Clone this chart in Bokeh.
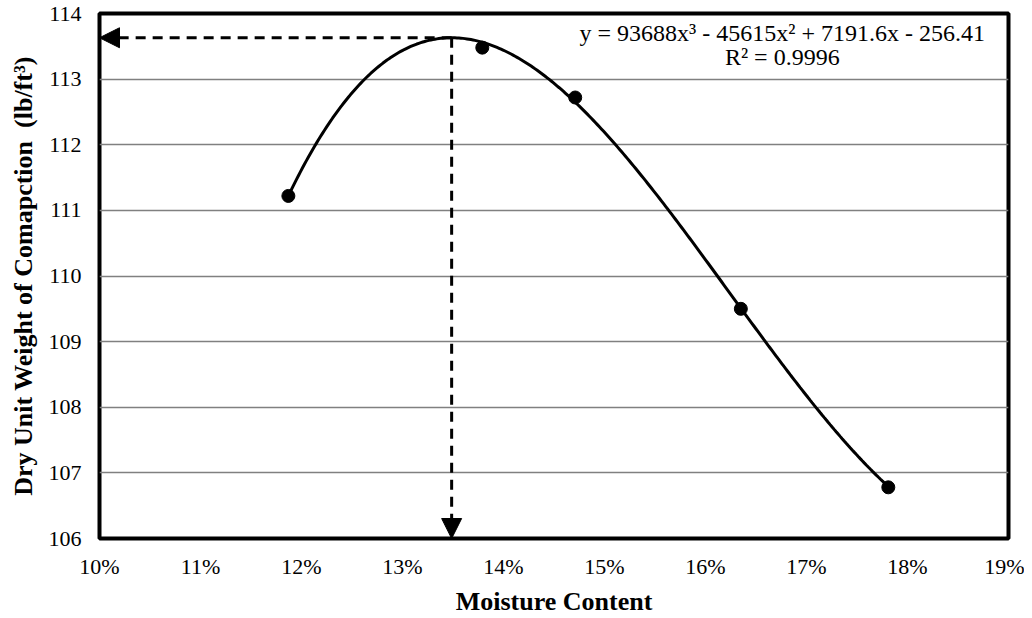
import numpy as np
from bokeh.plotting import figure
from bokeh.models import (NumeralTickFormatter, FixedTicker, Arrow, NormalHead,
                          Label, Range1d)
from bokeh.embed import file_html
from bokeh.resources import INLINE

# ---- data ----
moisture = [0.1187, 0.1379, 0.1471, 0.1635, 0.1781]
dry_unit_weight = [111.22, 113.48, 112.72, 109.50, 106.78]
# trendline coefficients shown on chart (cubic, highest power first)
trend_coeffs = [93688, -45615, 7191.6, -256.41]
equation_text = "y = 93688x\u00b3 - 45615x\u00b2 + 7191.6x - 256.41"
r2_text = "R\u00b2 = 0.9996"
x_ticks = [0.10, 0.11, 0.12, 0.13, 0.14, 0.15, 0.16, 0.17, 0.18, 0.19]
y_ticks = [106, 107, 108, 109, 110, 111, 112, 113, 114]

FONT = "Liberation Serif"

p = figure(frame_width=909, frame_height=525, output_backend="svg", toolbar_location=None,
           x_range=Range1d(0.10, 0.19), y_range=Range1d(106, 114),
           min_border_left=99, min_border_right=16, min_border_top=13,
           min_border_bottom=78)

p.outline_line_color = "black"
p.outline_line_width = 4
p.background_fill_color = "white"
p.border_fill_color = "white"

p.xgrid.grid_line_color = None
p.ygrid.grid_line_color = "#808080"
p.ygrid.grid_line_width = 1.6

p.xaxis.ticker = FixedTicker(ticks=x_ticks)
p.yaxis.ticker = FixedTicker(ticks=y_ticks)
p.xaxis.formatter = NumeralTickFormatter(format="0%")

for ax in (p.xaxis, p.yaxis):
    ax.axis_line_color = None
    ax.major_tick_line_color = None
    ax.minor_tick_line_color = None
    ax.major_tick_out = 0
    ax.major_tick_in = 0
    ax.minor_tick_out = 0
    ax.minor_tick_in = 0
    ax.major_label_text_font = FONT
    ax.major_label_text_font_size = "22px"
    ax.major_label_text_color = "black"
    ax.axis_label_text_font = FONT
    ax.axis_label_text_font_style = "bold"
    ax.axis_label_text_font_size = "26px"
    ax.axis_label_text_color = "black"

p.xaxis.axis_label = "Moisture Content"
p.yaxis.axis_label = "Dry Unit Weight of Comapction \u00a0(lb/ft\u00b3)"
p.xaxis.major_label_standoff = 15
p.yaxis.major_label_standoff = 18
p.xaxis.axis_label_standoff = 5
p.yaxis.axis_label_standoff = 8

# trendline from displayed coefficients
poly = np.poly1d(trend_coeffs)
xs = np.linspace(min(moisture), max(moisture), 300)
p.line(xs, poly(xs), line_color="black", line_width=3)

# data points
p.scatter(moisture, dry_unit_weight, size=13, marker="circle",
          fill_color="black", line_color="black")

# peak of trendline (optimum)
dpoly = poly.deriv()
roots = [r.real for r in dpoly.roots if abs(r.imag) < 1e-12]
x_opt = [r for r in roots if min(moisture) < r < max(moisture) and poly.deriv(2)(r) < 0][0]
y_opt = poly(x_opt)

# dashed arrows
p.add_layout(Arrow(x_start=x_opt, y_start=y_opt, x_end=x_ticks[0], y_end=y_opt,
                   line_color="black", line_width=3, line_dash="10 7",
                   end=NormalHead(size=20, fill_color="black", line_color="black",
                                  line_width=1)))
p.add_layout(Arrow(x_start=x_opt, y_start=y_opt, x_end=x_opt, y_end=y_ticks[0],
                   line_color="black", line_width=3, line_dash="10 7",
                   end=NormalHead(size=20, fill_color="black", line_color="black",
                                  line_width=1)))

# equation labels
p.add_layout(Label(x=0.1676, y=113.71, text=equation_text, text_font=FONT,
                   text_font_size="24px", text_align="center",
                   text_baseline="middle", text_color="black"))
p.add_layout(Label(x=0.1676, y=113.33, text=r2_text, text_font=FONT,
                   text_font_size="24px", text_align="center",
                   text_baseline="middle", text_color="black"))

open("out.html", "w").write(file_html(p, INLINE))
